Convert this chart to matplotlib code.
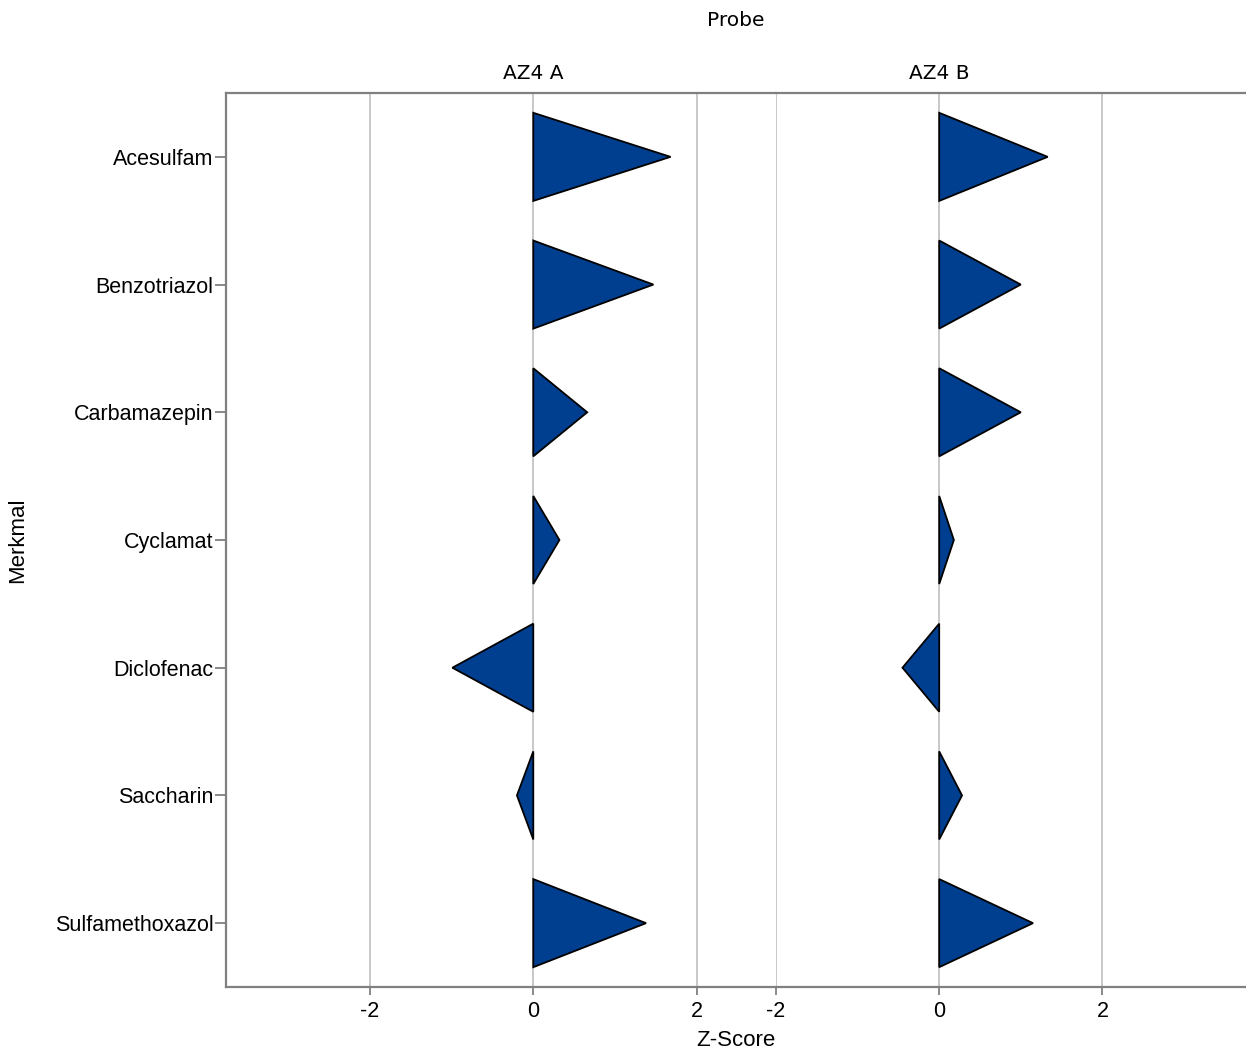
import numpy as np
import matplotlib.pyplot as plt
from matplotlib.patches import Polygon

plt.rcParams['font.family'] = ['Liberation Sans', 'DejaVu Sans']

merkmale = ["Acesulfam", "Benzotriazol", "Carbamazepin", "Cyclamat",
            "Diclofenac", "Saccharin", "Sulfamethoxazol"]
proben = ["AZ4 A", "AZ4 B"]
z_az4a = [1.68, 1.47, 0.66, 0.32, -0.99, -0.20, 1.38]
z_az4b = [1.33, 1.00, 1.00, 0.18, -0.45, 0.28, 1.15]
x_ticks = [-2, 0, 2]

W, H = 1246, 1053
fig = plt.figure(figsize=(W / 100, H / 100), dpi=100)

blue = '#003f8f'
grey = '#808080'
half = 0.345

# panel pixel extents (left, right) and x limits
panels = [
    (226, 776, (-3.76, 2.97), z_az4a),
    (776, 1246, (-2.0, 3.76), z_az4b),
]
top, bottom = 93, 987

axes = []
for i, (x0, x1, xlim, vals) in enumerate(panels):
    ax = fig.add_axes([x0 / W, 1 - bottom / H, (x1 - x0) / W, (bottom - top) / H])
    ax.set_xlim(*xlim)
    ax.set_ylim(len(merkmale) - 0.5, -0.5)
    ax.set_xticks(x_ticks)
    ax.set_xticklabels([str(t) for t in x_ticks])
    for t in x_ticks:
        ax.axvline(t, color='#c4c4c4', lw=1.3, zorder=0)
    for j, v in enumerate(vals):
        tri = Polygon([(0, j - half), (v, j), (0, j + half)], closed=True,
                      facecolor=blue, edgecolor='black', lw=1.3, zorder=3)
        ax.add_patch(tri)
    for s in ['top', 'bottom', 'left', 'right']:
        ax.spines[s].set_color(grey)
        ax.spines[s].set_linewidth(1.6)
    ax.spines['right'].set_visible(False)
    if i == 1:
        ax.spines['left'].set_visible(False)
        ax.tick_params(axis='y', left=False, labelleft=False)
    else:
        ax.set_yticks(range(len(merkmale)))
        ax.set_yticklabels(merkmale)
    ax.tick_params(axis='x', colors=grey, length=6, width=1.3, labelcolor='black',
                   labelsize=15.5, pad=4)
    ax.tick_params(axis='y', colors=grey, length=8, width=1.3, labelcolor='black',
                   labelsize=15.5, pad=1)
    ax.set_title(proben[i], fontsize=14.5, pad=10, family='DejaVu Sans',
                 x=(0 - xlim[0]) / (xlim[1] - xlim[0]))
    axes.append(ax)

fig.text(736 / W, 1 - 20 / H, "Probe", ha='center', va='center', fontsize=14.5,
         family='DejaVu Sans')
fig.text(736 / W, 1 - 1040 / H, "Z-Score", ha='center', va='center', fontsize=16)
fig.text(18 / W, 1 - 540 / H, "Merkmal", ha='center', va='center', fontsize=16,
         rotation=90)

fig.savefig("out.png", dpi=100)
